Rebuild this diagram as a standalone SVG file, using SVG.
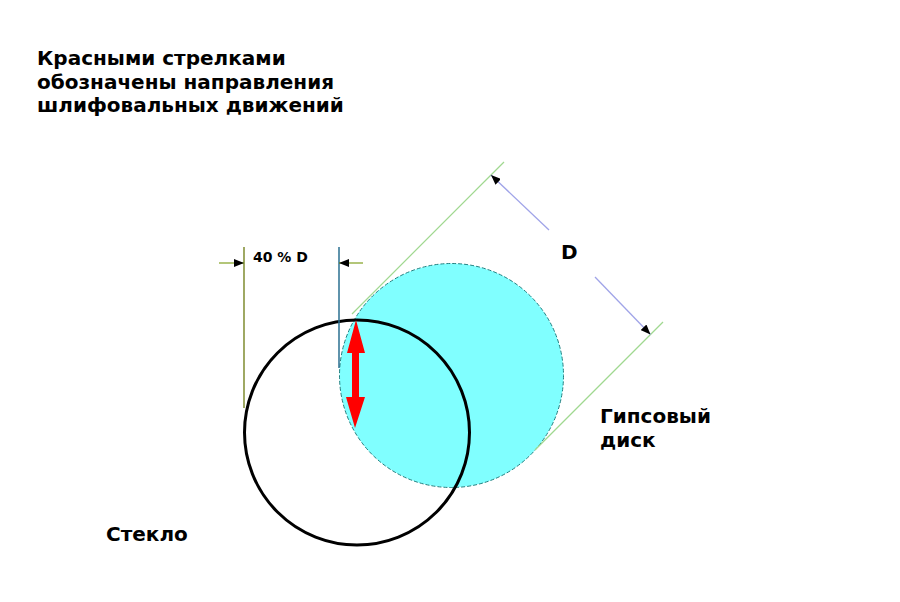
<svg xmlns="http://www.w3.org/2000/svg" width="900" height="602" viewBox="0 0 900 602">
<style>
.t{font-family:"DejaVu Sans",sans-serif;font-weight:bold;font-size:20px;fill:#000}
.s{font-family:"DejaVu Sans",sans-serif;font-weight:bold;font-size:14px;fill:#000}
.ext{stroke:#a0d890;stroke-width:1.2;fill:none}
.dim{stroke:#a0a4e8;stroke-width:1.3;fill:none}
</style>
<defs>
<marker id="ah" markerWidth="10" markerHeight="8" refX="10" refY="4" orient="auto" markerUnits="userSpaceOnUse">
<path d="M0,0 L10,4 L0,8 Z" fill="#000"/>
</marker>
</defs>
<rect width="900" height="602" fill="#fff"/>
<g id="title">
<text class="t" x="37" y="65">Красными стрелками</text>
<text class="t" x="37" y="89">обозначены направления</text>
<text class="t" x="37" y="112">шлифовальных движений</text>
</g>
<g id="disk">
<circle cx="451.5" cy="375.5" r="112" fill="#80ffff" stroke="#208080" stroke-width="1" stroke-dasharray="4 2"/>
</g>
<g id="glass">
<circle cx="357" cy="432.5" r="112.5" fill="none" stroke="#000" stroke-width="3"/>
</g>
<g id="connectors">
<line x1="244" y1="247" x2="244" y2="408" stroke="#6b7a10" stroke-width="1.3"/>
<line x1="339" y1="247" x2="339" y2="368" stroke="#2a6f90" stroke-width="1.5"/>
<line x1="219" y1="263" x2="244" y2="263" stroke="#80a020" stroke-width="1.2" marker-end="url(#ah)"/>
<line x1="363" y1="263" x2="339" y2="263" stroke="#80a020" stroke-width="1.2" marker-end="url(#ah)"/>
<line class="ext" x1="352" y1="314" x2="504" y2="162"/>
<line class="ext" x1="535" y1="450" x2="663" y2="322"/>
<line class="dim" x1="549" y1="230" x2="491" y2="175" marker-end="url(#ah)"/>
<line class="dim" x1="595" y1="277" x2="650.5" y2="334.5" marker-end="url(#ah)"/>
</g>
<g id="red-arrow">
<path d="M356,320 L365,353 L359,353 L359,397 L365,397 L355,428 L346,397 L352,397 L352,353 L347,353 Z" fill="#ff0000"/>
</g>
<g id="labels">
<text class="s" x="253" y="262">40 % D</text>
<text class="t" x="561" y="259">D</text>
<text class="t" x="600" y="423">Гипсовый</text>
<text class="t" x="600" y="447">диск</text>
<text class="t" x="106" y="541">Стекло</text>
</g>
</svg>
